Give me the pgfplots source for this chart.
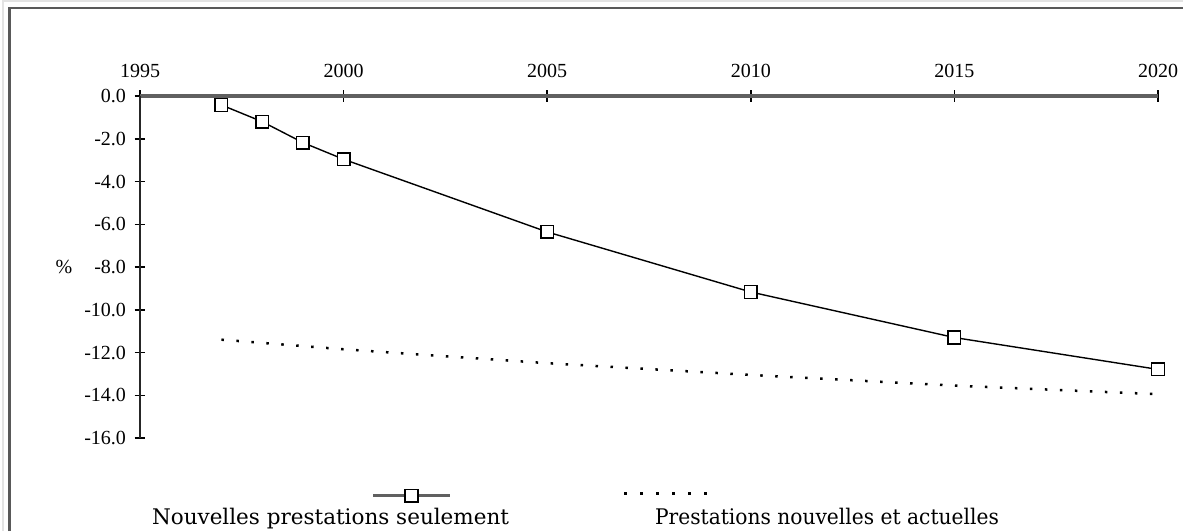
\documentclass[border=0pt]{standalone}
\usepackage{pgfplots}
\pgfplotsset{compat=1.18}
\usepackage{fontspec}
\setmainfont{Liberation Serif}
\newfontfamily\legendfamily{DejaVu Serif}
\begin{document}
\begin{tikzpicture}[x=1pt,y=1pt]
\useasboundingbox (0,0) rectangle (1183,531);
\clip (0,0) rectangle (1183,531);
\fill[white] (0,0) rectangle (1183,531);
\draw[line width=2pt, gray!22] (3,0) -- (3,529.5) -- (1183,529.5);
\draw[line width=2.5pt, gray!70!black] (9.5,0) -- (9.5,523) -- (1183,523);
\begin{axis}[
  at={(140pt,93pt)}, anchor=south west,
  scale only axis, width=1018pt, height=342pt,
  xmin=1995, xmax=2020, ymin=-16, ymax=0,
  axis x line=top, axis y line=left,
  x axis line style={-, line width=3.2pt, gray!75!black},
  y axis line style={-, line width=1.8pt, black!85},
  xtick={1995,2000,2005,2010,2015,2020},
  xticklabels={1995,2000,2005,2010,2015,2020},
  ytick={0,-2,-4,-6,-8,-10,-12,-14,-16},
  yticklabels={0.0,-2.0,-4.0,-6.0,-8.0,-10.0,-12.0,-14.0,-16.0},
  tick align=center, major tick length=11pt,
  major tick style={black, line width=1.5pt},
  minor tick num=0,
  ticklabel style={font=\fontsize{20}{24}\selectfont},
  xticklabel shift=9pt, yticklabel shift=5pt,
  clip=false,
  legend columns=2,
  legend cell align=left,
  legend style={at={(axis description cs:0.0118,-0.256)}, anchor=south west,
    draw=none, fill=none, inner sep=0pt, outer sep=0pt,
    nodes={inner sep=0pt, outer sep=0pt},
    font=\legendfamily\fontsize{21.5}{26}\selectfont,
    /tikz/every odd column/.append style={column sep=0pt},
    /tikz/every even column/.append style={column sep=146pt}},
]
\addplot[black, line width=1.4pt,
  mark=square*, mark size=6.3pt, mark options={solid, black, fill=white, line width=1.5pt},
  legend image code/.code={
    \draw[overlay, solid, line width=2.8pt, gray!75!black] (221pt,21pt) -- (298pt,21pt);
    \draw[overlay] plot coordinates {(259.5pt,21pt)};
  }] coordinates {
  (1997,-0.42) (1998,-1.20) (1999,-2.18) (2000,-2.96)
  (2005,-6.36) (2010,-9.17) (2015,-11.30) (2020,-12.79)
};
\addlegendentry{Nouvelles prestations seulement}
\addplot[black, line width=2.5pt, dash pattern=on 2.5pt off 12.5pt,
  legend image code/.code={
    \draw[overlay, black, line width=2.5pt, dash pattern=on 2.5pt off 13.5pt] (-31pt,23pt) -- (52pt,23pt);
  }] coordinates {
  (1997,-11.40) (2000,-11.85) (2005,-12.50) (2010,-13.05) (2015,-13.55) (2020,-13.95)
};
\addlegendentry{{\addfontfeature{FakeStretch=0.94}Prestations nouvelles et actuelles}}
\node[font=\fontsize{20}{24}\selectfont] at (axis description cs:-0.0747,0.5) {\%};
\end{axis}
\end{tikzpicture}
\end{document}
